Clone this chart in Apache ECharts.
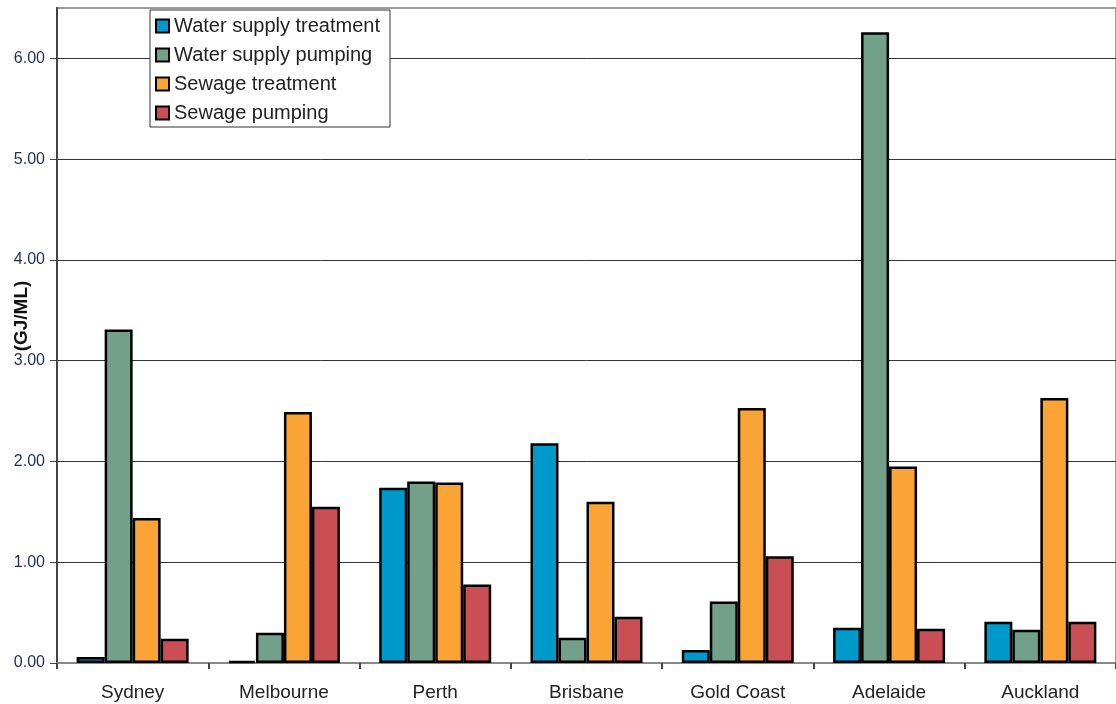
<!DOCTYPE html>
<html>
<head>
<meta charset="utf-8">
<script src="https://cdn.jsdelivr.net/npm/echarts@6/dist/echarts.min.js"></script>
<style>
html,body{margin:0;padding:0;background:#fff;}
#c{width:1116px;height:704px;}
</style>
</head>
<body>
<div id="c"></div>
<script>
const categories = ['Sydney', 'Melbourne', 'Perth', 'Brisbane', 'Gold Coast', 'Adelaide', 'Auckland'];
const waterSupplyTreatment = [0.06, 0.02, 1.74, 2.18, 0.13, 0.35, 0.41];
const waterSupplyPumping   = [3.31, 0.30, 1.80, 0.25, 0.61, 6.26, 0.33];
const sewageTreatment      = [1.44, 2.49, 1.79, 1.60, 2.53, 1.95, 2.63];
const sewagePumping        = [0.24, 1.55, 0.78, 0.46, 1.06, 0.34, 0.41];
const yTicks = [0, 1, 2, 3, 4, 5, 6];
const seriesNames = ['Water supply treatment', 'Water supply pumping', 'Sewage treatment', 'Sewage pumping'];
const seriesColors = ['#0099CC', '#72A08A', '#F9A435', '#C94F55'];
const seriesData = [waterSupplyTreatment, waterSupplyPumping, sewageTreatment, sewagePumping];

const chart = echarts.init(document.getElementById('c'));
const font = 'Liberation Sans, Arial, sans-serif';
chart.setOption({
  backgroundColor: '#fff',
  animation: false,
  grid: {
    left: 57, right: -5, top: 8, bottom: 41,
    show: true, borderColor: '#999', borderWidth: 2, backgroundColor: 'transparent'
  },
  legend: {
    orient: 'vertical',
    left: 150, top: 10,
    padding: [5, 10, 3, 5],
    itemGap: 7,
    itemWidth: 13, itemHeight: 13,
    backgroundColor: '#fff',
    borderColor: '#333', borderWidth: 1,
    icon: 'rect',
    itemStyle: { borderColor: '#000', borderWidth: 2 },
    textStyle: { fontFamily: font, fontSize: 20, color: '#222', lineHeight: 22 },
    data: seriesNames
  },
  xAxis: {
    type: 'category',
    data: categories,
    axisLine: { lineStyle: { color: '#888', width: 2 } },
    axisTick: { show: true, length: 6, alignWithLabel: false, lineStyle: { color: '#444', width: 2 } },
    axisLabel: { fontFamily: font, fontSize: 19, color: '#222', margin: 20 },
    splitLine: { show: false }
  },
  yAxis: {
    type: 'value',
    min: 0, max: 6.5, interval: 1,
    axisLine: { show: true, lineStyle: { color: '#444', width: 2 } },
    axisTick: { show: true, length: 7, customValues: yTicks, lineStyle: { color: '#444', width: 1 } },
    axisLabel: {
      customValues: yTicks,
      fontFamily: font, fontSize: 16, color: '#1f2d5a', margin: 12,
      formatter: v => v.toFixed(2)
    },
    splitLine: { show: true, lineStyle: { color: '#333', width: 1 } }
  },
  graphic: [{
    type: 'text',
    x: 22, y: 316,
    rotation: Math.PI / 2,
    style: {
      text: '(GJ/ML)', fontFamily: font, fontSize: 19, fontWeight: 'bold',
      fill: '#111', align: 'center', verticalAlign: 'middle'
    }
  }],
  series: seriesNames.map((n, i) => ({
    name: n,
    type: 'bar',
    data: seriesData[i],
    barWidth: 28,
    barGap: '0%',
    itemStyle: { color: seriesColors[i], borderColor: '#000', borderWidth: 2.5 }
  }))
});
</script>
</body>
</html>
